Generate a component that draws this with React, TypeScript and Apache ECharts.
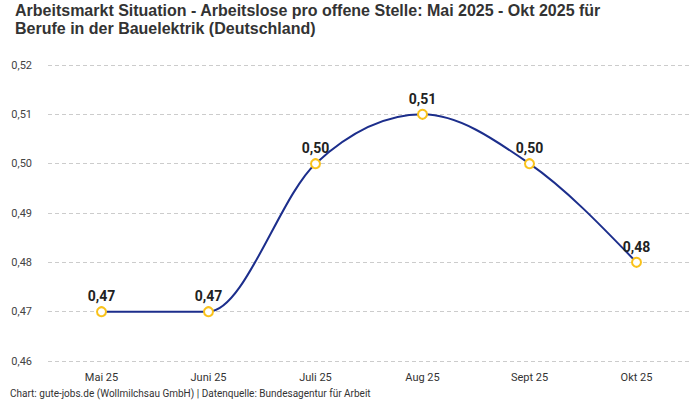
import React, { useEffect, useRef } from 'react';
import * as echarts from 'echarts';

const categories = ['Mai 25', 'Juni 25', 'Juli 25', 'Aug 25', 'Sept 25', 'Okt 25'];
const values = [0.47, 0.47, 0.5, 0.51, 0.5, 0.48];
const yMin = 0.46;
const yMax = 0.52;
const yStep = 0.01;

const fmt = (v: number) => v.toFixed(2).replace('.', ',');

// monotone cubic (wie d3.curveMonotoneX) in Pixelkoordinaten
const monotonePath = (pts: number[][]) => {
	const n = pts.length;
	const sign = (x: number) => (x < 0 ? -1 : 1);
	const t: number[] = new Array(n).fill(0);
	for (let i = 1; i < n - 1; i++) {
		const h0 = pts[i][0] - pts[i - 1][0];
		const h1 = pts[i + 1][0] - pts[i][0];
		const s0 = (pts[i][1] - pts[i - 1][1]) / h0;
		const s1 = (pts[i + 1][1] - pts[i][1]) / h1;
		const p = (s0 * h1 + s1 * h0) / (h0 + h1);
		t[i] = (sign(s0) + sign(s1)) * Math.min(Math.abs(s0), Math.abs(s1), 0.5 * Math.abs(p)) || 0;
	}
	const h0 = pts[1][0] - pts[0][0];
	t[0] = (3 * (pts[1][1] - pts[0][1]) / h0 - t[1]) / 2;
	const hn = pts[n - 1][0] - pts[n - 2][0];
	t[n - 1] = (3 * (pts[n - 1][1] - pts[n - 2][1]) / hn - t[n - 2]) / 2;
	let d = `M${pts[0][0]},${pts[0][1]}`;
	for (let i = 0; i < n - 1; i++) {
		const dx = (pts[i + 1][0] - pts[i][0]) / 3;
		d += ` C${pts[i][0] + dx},${pts[i][1] + dx * t[i]} ${pts[i + 1][0] - dx},${pts[i + 1][1] - dx * t[i + 1]} ${pts[i + 1][0]},${pts[i + 1][1]}`;
	}
	return d;
};

const App: React.FC = () => {
	const chartRef = useRef<HTMLDivElement>(null);

	useEffect(() => {
		document.body.style.margin = '0';
		if (!chartRef.current) return;
		const chart = echarts.init(chartRef.current, undefined, { renderer: 'svg' });
		const font = 'Roboto, "Noto Sans", sans-serif';

		const option: any = {
			animation: false,
			textStyle: { fontFamily: font },
			title: {
				text: 'Arbeitsmarkt Situation - Arbeitslose pro offene Stelle: Mai 2025 - Okt 2025 für\nBerufe in der Bauelektrik (Deutschland)',
				left: 10,
				top: -4,
				textStyle: { fontSize: 16, fontWeight: 'bold', color: '#333', lineHeight: 18, fontFamily: '"Liberation Sans", Arial, sans-serif' }
			},
			graphic: [
				{
					type: 'text',
					left: 10,
					bottom: 2,
					style: {
						text: 'Chart: gute-jobs.de (Wollmilchsau GmbH) | Datenquelle: Bundesagentur für Arbeit',
						fontSize: 10,
						fill: '#333',
						fontFamily: font
					}
				}
			],
			grid: { left: 48, right: 10, top: 65, bottom: 39 },
			xAxis: {
				type: 'category',
				data: categories,
				boundaryGap: true,
				axisLine: { show: false },
				axisTick: { show: false },
				axisLabel: { color: '#333', fontSize: 11, margin: 11 }
			},
			yAxis: {
				type: 'value',
				min: yMin,
				max: yMax,
				interval: yStep,
				axisLine: { show: false },
				axisTick: { show: false },
				axisLabel: { color: '#444', fontSize: 11, margin: 16, formatter: (v: number) => fmt(v) },
				splitLine: { lineStyle: { color: '#cccccc', type: [4, 3], width: 1 } }
			},
			series: [
				{
					type: 'custom',
					z: 2,
					data: values.map((v, i) => [i, v]),
					renderItem: (params: any, api: any) => {
						if (params.dataIndex !== 0) return null;
						const pts = values.map((v, i) => api.coord([i, v]));
						return {
							type: 'path',
							shape: { pathData: monotonePath(pts) },
							style: { fill: 'none', stroke: '#1c2e8c', lineWidth: 2 }
						};
					}
				},
				{
					type: 'line',
					z: 3,
					data: values,
					lineStyle: { width: 0, opacity: 0 },
					symbol: 'circle',
					symbolSize: 9,
					itemStyle: { color: '#ffffff', borderColor: '#f9c21b', borderWidth: 2 },
					label: {
						show: true,
						position: 'top',
						distance: 3,
						formatter: (p: any) => fmt(p.value),
						fontSize: 14,
						fontWeight: 'bold',
						color: '#222'
					}
				}
			]
		};

		chart.setOption(option);
		return () => {
			chart.dispose();
		};
	}, []);

	return <div ref={chartRef} style={{ width: 700, height: 400 }} />;
};

export default App;
